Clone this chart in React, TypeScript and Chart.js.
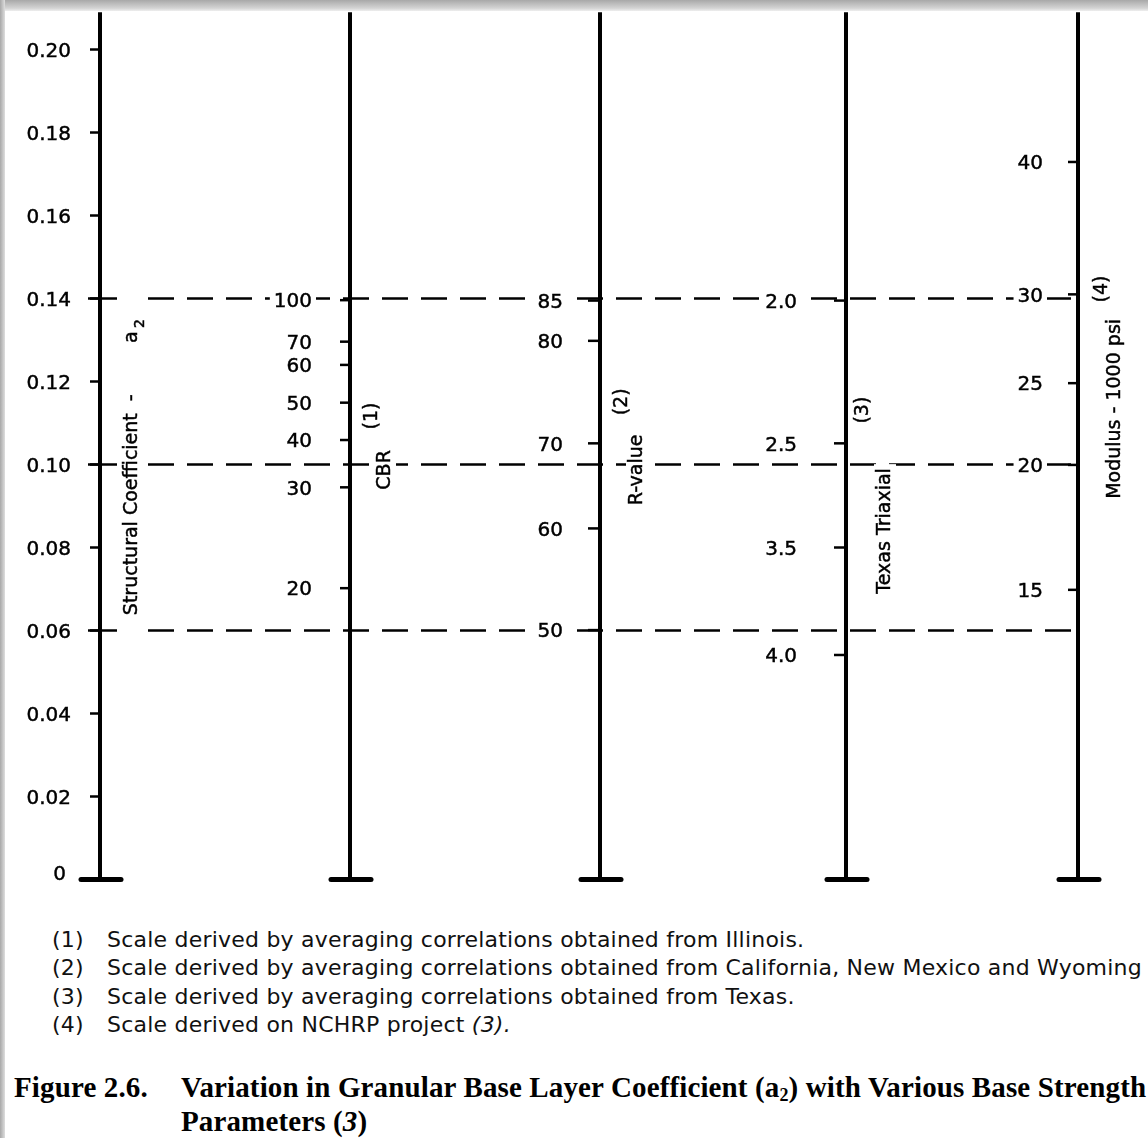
import React, { useEffect, useRef } from "react";
import { Chart, registerables } from "chart.js";

Chart.register(...registerables);

// ---------------- data ----------------
// Structural coefficient a2 (left scale)
const A2_TICK_VALUES = [0.2, 0.18, 0.16, 0.14, 0.12, 0.1, 0.08, 0.06, 0.04, 0.02];
const A2_TICK_LABELS = ["0.20", "0.18", "0.16", "0.14", "0.12", "0.10", "0.08", "0.06", "0.04", "0.02"];
const A2_ORIGIN_LABEL = "0";

// CBR scale (1): label and the a2 value it sits at
const CBR_LABELS = ["100", "70", "60", "50", "40", "30", "20"];
const CBR_A2 = [0.1396, 0.1296, 0.124, 0.1149, 0.1059, 0.0945, 0.0702];

// R-value scale (2)
const RVALUE_LABELS = ["85", "80", "70", "60", "50"];
const RVALUE_A2 = [0.1395, 0.1298, 0.1051, 0.0846, 0.0601];

// Texas triaxial scale (3)
const TEXAS_LABELS = ["2.0", "2.5", "3.5", "4.0"];
const TEXAS_A2 = [0.1395, 0.1051, 0.08, 0.0541];

// Modulus - 1000 psi scale (4)
const MODULUS_LABELS = ["40", "30", "25", "20", "15"];
const MODULUS_A2 = [0.1729, 0.141, 0.1196, 0.0999, 0.0698];

// dashed reading lines
const GUIDE_A2 = [0.14, 0.1, 0.06];

const AXIS_TITLES = ["Structural Coefficient  -", "CBR", "R-value", "Texas Triaxial", "Modulus - 1000 psi"];
const AXIS_NOTES = ["", "(1)", "(2)", "(3)", "(4)"];

const FOOTNOTE_NUMBERS = ["(1)", "(2)", "(3)", "(4)"];
const FOOTNOTE_TEXTS = [
  "Scale derived by averaging correlations obtained from Illinois.",
  "Scale derived by averaging correlations obtained from California, New Mexico and Wyoming",
  "Scale derived by averaging correlations obtained from Texas.",
  "Scale derived on NCHRP project ",
];

// ---------------- layout ----------------
const W = 1148;
const CH = 900;
const X_MIN = -0.4;
const X_MAX = 4.192;
const Y_MIN = -0.00494;
const Y_MAX = 0.21193;
const AXIS_POS = [0, 1, 2, 2.984, 3.912];
const AXIS_TOP = 0.209;
const GUIDE_START = 0.192;
const TICK_LEN = [10, 10, 12, 12, 10];
const LABEL_GAP = [29, 38, 37, 49, 35];
const TITLE_DX = [32, 35, 37, 39, 37];
const TITLE_Y = [0.0637, 0.0987, 0.0987, 0.084, 0.1134];
const NOTE_DX = [0, 22, 22, 17, 24];
const NOTE_Y = [0, 0.1117, 0.1151, 0.1131, 0.1423];
const INK = "#000";
const TICK_FONT = '20px "DejaVu Sans", sans-serif';
const TITLE_FONT = '19px "DejaVu Sans", sans-serif';

const SCALES = [
  { values: A2_TICK_VALUES, labels: A2_TICK_LABELS },
  { values: CBR_A2, labels: CBR_LABELS },
  { values: RVALUE_A2, labels: RVALUE_LABELS },
  { values: TEXAS_A2, labels: TEXAS_LABELS },
  { values: MODULUS_A2, labels: MODULUS_LABELS },
];

function inkText(ctx: CanvasRenderingContext2D, text: string, x: number, y: number) {
  ctx.fillStyle = INK;
  ctx.strokeStyle = INK;
  ctx.lineWidth = 0.45;
  ctx.fillText(text, x, y);
  ctx.strokeText(text, x, y);
}

function rotatedText(ctx: CanvasRenderingContext2D, text: string, x: number, y: number, align: CanvasTextAlign, bg: boolean) {
  ctx.save();
  ctx.translate(x, y);
  ctx.rotate(-Math.PI / 2);
  ctx.textAlign = align;
  ctx.textBaseline = "middle";
  const w = ctx.measureText(text).width;
  if (bg) {
    ctx.fillStyle = "#fff";
    const x0 = align === "center" ? -w / 2 : align === "left" ? 0 : -w;
    ctx.fillRect(x0 - 4, -11, w + 8, 22);
  }
  inkText(ctx, text, 0, 0);
  ctx.restore();
}

const nomographPlugin = {
  id: "nomograph",
  afterDatasetsDraw(chart: any) {
    const ctx: CanvasRenderingContext2D = chart.ctx;
    const xs = chart.scales.x;
    const ys = chart.scales.y;
    ctx.save();
    ctx.lineCap = "butt";

    // crosses on the a2 scale where the guide lines start
    const px0 = xs.getPixelForValue(AXIS_POS[0]);
    ctx.strokeStyle = INK;
    ctx.lineWidth = 2.5;
    GUIDE_A2.forEach((v) => {
      const py = ys.getPixelForValue(v);
      ctx.beginPath();
      ctx.moveTo(px0 - 12, py);
      ctx.lineTo(px0 + 17, py);
      ctx.stroke();
    });

    // ticks and tick labels
    ctx.font = TICK_FONT;
    ctx.textBaseline = "middle";
    ctx.textAlign = "right";
    SCALES.forEach((s, i) => {
      const px = xs.getPixelForValue(AXIS_POS[i]);
      s.values.forEach((v, j) => {
        const py = ys.getPixelForValue(v);
        ctx.strokeStyle = INK;
        ctx.lineWidth = 2.5;
        ctx.beginPath();
        ctx.moveTo(px - TICK_LEN[i], py);
        ctx.lineTo(px, py);
        ctx.stroke();
        const label = s.labels[j];
        const right = px - LABEL_GAP[i];
        const w = ctx.measureText(label).width;
        ctx.fillStyle = "#fff";
        ctx.fillRect(right - w - 4, py - 9, w + 8, 20);
        inkText(ctx, label, right, py + 2);
      });
    });
    // origin label
    inkText(ctx, A2_ORIGIN_LABEL, px0 - 34, ys.getPixelForValue(0) - 5);

    // axis titles
    ctx.font = TITLE_FONT;
    AXIS_TITLES.forEach((t, i) => {
      const px = xs.getPixelForValue(AXIS_POS[i]) + TITLE_DX[i];
      const py = ys.getPixelForValue(TITLE_Y[i]);
      if (i === 0) {
        rotatedText(ctx, t, px, py, "left", true);
        rotatedText(ctx, "a", px, ys.getPixelForValue(0.1293), "left", true);
        ctx.font = '14px "DejaVu Sans", sans-serif';
        rotatedText(ctx, "2", px + 8, ys.getPixelForValue(0.1329), "left", false);
        ctx.font = TITLE_FONT;
      } else {
        rotatedText(ctx, t, px, py, "center", true);
        const nx = xs.getPixelForValue(AXIS_POS[i]) + NOTE_DX[i];
        rotatedText(ctx, AXIS_NOTES[i], nx, ys.getPixelForValue(NOTE_Y[i]), "center", false);
      }
    });
    ctx.restore();
  },
};

export default function App() {
  const ref = useRef<HTMLCanvasElement | null>(null);

  useEffect(() => {
    if (!ref.current) return;
    const datasets: any[] = [];
    // vertical scale lines
    AXIS_POS.forEach((ax) => {
      datasets.push({
        data: [
          { x: ax, y: 0 },
          { x: ax, y: AXIS_TOP },
        ],
        borderColor: INK,
        borderWidth: 4,
        showLine: true,
        pointRadius: 0,
      });
    });
    // feet
    AXIS_POS.forEach((ax) => {
      datasets.push({
        data: [
          { x: ax - 0.076, y: 0 },
          { x: ax + 0.084, y: 0 },
        ],
        borderColor: INK,
        borderWidth: 5,
        borderCapStyle: "round",
        showLine: true,
        pointRadius: 0,
      });
    });
    // dashed guide lines
    GUIDE_A2.forEach((v) => {
      datasets.push({
        data: [
          { x: GUIDE_START, y: v },
          { x: AXIS_POS[AXIS_POS.length - 1], y: v },
        ],
        borderColor: INK,
        borderWidth: 2.5,
        borderDash: [26, 13],
        showLine: true,
        pointRadius: 0,
      });
    });

    const chart = new Chart(ref.current, {
      type: "scatter",
      data: { datasets },
      options: {
        animation: false,
        responsive: false,
        maintainAspectRatio: false,
        devicePixelRatio: 1,
        layout: { padding: 0 },
        events: [],
        plugins: { legend: { display: false }, tooltip: { enabled: false } },
        scales: {
          x: { type: "linear", min: X_MIN, max: X_MAX, display: false },
          y: { type: "linear", min: Y_MIN, max: Y_MAX, display: false },
        },
      },
      plugins: [nomographPlugin],
    } as any);
    return () => chart.destroy();
  }, []);

  const noteStyle: React.CSSProperties = {
    position: "absolute",
    fontFamily: '"DejaVu Sans", sans-serif',
    fontSize: 22,
    lineHeight: "28px",
    letterSpacing: "0.22px",
    color: "#111",
    whiteSpace: "nowrap",
  };
  const capStyle: React.CSSProperties = {
    position: "absolute",
    fontFamily: '"Liberation Serif", "Times New Roman", serif',
    fontWeight: "bold",
    fontSize: 29,
    lineHeight: "34px",
    letterSpacing: "0.13px",
    color: "#000",
    whiteSpace: "nowrap",
  };

  return (
    <div style={{ position: "absolute", left: 0, top: 0, width: W, height: 1138, background: "#fff", overflow: "hidden" }}>
      <canvas ref={ref} width={W} height={CH} style={{ position: "absolute", left: 0, top: 0 }} />
      {FOOTNOTE_NUMBERS.map((n, i) => (
        <React.Fragment key={n}>
          <div style={{ ...noteStyle, left: 52, top: 926 + i * 28.3 }}>{n}</div>
          <div style={{ ...noteStyle, left: 107, top: 926 + i * 28.3 }}>
            {FOOTNOTE_TEXTS[i]}
            {i === 3 ? <i>(3).</i> : null}
          </div>
        </React.Fragment>
      ))}
      <div style={{ ...capStyle, left: 14, top: 1070 }}>Figure 2.6.</div>
      <div style={{ ...capStyle, left: 181, top: 1070 }}>
        Variation in Granular Base Layer Coefficient (a<span style={{ fontSize: 18, verticalAlign: "-4px" }}>2</span>) with Various Base Strength
      </div>
      <div style={{ ...capStyle, left: 181, top: 1104 }}>
        Parameters (<i>3</i>)
      </div>
      <div style={{ position: "absolute", left: 0, top: 0, width: W, height: 11, background: "linear-gradient(#a8a8a8, #d4d4d4 75%, #eeeeee)" }} />
      <div style={{ position: "absolute", left: 0, top: 0, width: 5, height: 1138, background: "linear-gradient(to right, #a8a8a8, #dedede)" }} />
    </div>
  );
}
